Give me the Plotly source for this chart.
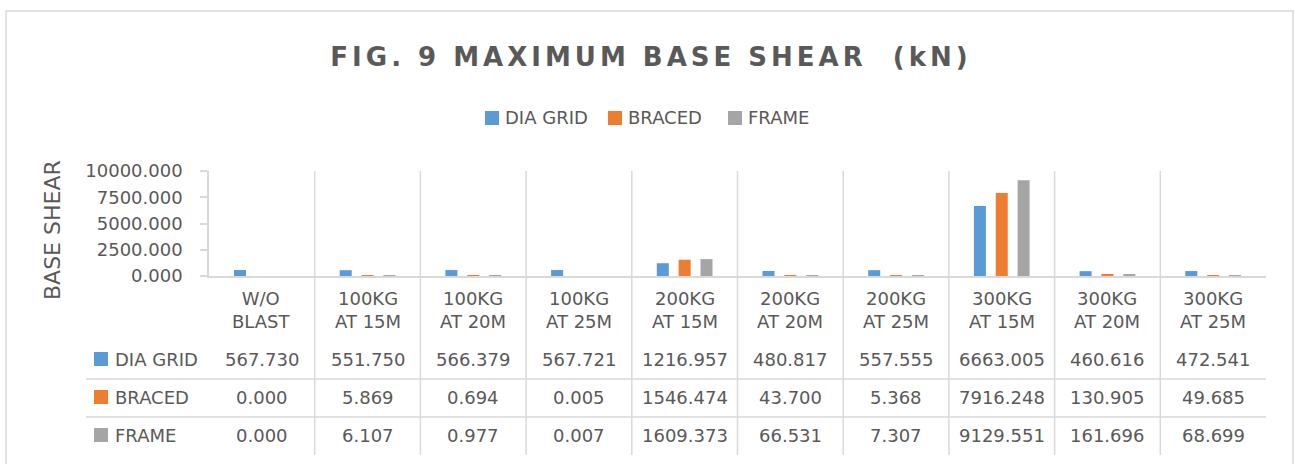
import plotly.graph_objects as go

categories = ["W/O<br>BLAST", "100KG<br>AT 15M", "100KG<br>AT 20M", "100KG<br>AT 25M",
              "200KG<br>AT 15M", "200KG<br>AT 20M", "200KG<br>AT 25M",
              "300KG<br>AT 15M", "300KG<br>AT 20M", "300KG<br>AT 25M"]
series_names = ["DIA GRID", "BRACED", "FRAME"]
dia_grid = [567.730, 551.750, 566.379, 567.721, 1216.957, 480.817, 557.555, 6663.005, 460.616, 472.541]
braced = [0.000, 5.869, 0.694, 0.005, 1546.474, 43.700, 5.368, 7916.248, 130.905, 49.685]
frame = [0.000, 6.107, 0.977, 0.007, 1609.373, 66.531, 7.307, 9129.551, 161.696, 68.699]
y_ticks = [0, 2500, 5000, 7500, 10000]
colors = ["#5B9BD5", "#ED7D31", "#A5A5A5"]

W, H = 1295, 464
TXT = "#595959"
GRID = "#D9D9D9"
FONT = "DejaVu Sans"

def px(x):
    return x / W

def py(y):
    return 1 - y / H

xs = list(range(len(categories)))
series = [dia_grid, braced, frame]

fig = go.Figure()
for name, vals, col in zip(series_names, series, colors):
    fig.add_trace(go.Bar(x=xs, y=vals, name=name, showlegend=False,
                         marker=dict(color=col, line=dict(width=0))))

shapes = []
annotations = []
# outer chart border (bottom edge lies below the visible area)
shapes.append(dict(type="rect", xref="paper", yref="paper", x0=px(6), x1=px(1293),
                   y0=py(480), y1=py(11), line=dict(color=GRID, width=1.5)))
# vertical category separators through plot and table
for i in range(1, len(categories)):
    shapes.append(dict(type="line", xref="x", yref="paper", x0=i - 0.5, x1=i - 0.5,
                       y0=py(171), y1=py(455), line=dict(color=GRID, width=1.5)))
# table horizontal separators
for yy in [379, 417]:
    shapes.append(dict(type="line", xref="paper", yref="paper", x0=px(86), x1=px(1266),
                       y0=py(yy), y1=py(yy), line=dict(color=GRID, width=1.5)))

# top legend (key squares + labels)
legend_left = [485, 608, 728]
for name, col, lx in zip(series_names, colors, legend_left):
    shapes.append(dict(type="rect", xref="paper", yref="paper", x0=px(lx), x1=px(lx + 14),
                       y0=py(125), y1=py(111), fillcolor=col, line=dict(width=0)))
    annotations.append(dict(x=px(lx + 18), y=py(118), xref="paper", yref="paper", text=name,
                            showarrow=False, xanchor="left", yanchor="middle",
                            font=dict(family=FONT, size=18, color=TXT)))

row_y = [359, 397, 435]
# category labels
for i, c in enumerate(categories):
    annotations.append(dict(x=i, y=py(310), xref="x", yref="paper", text=c, showarrow=False,
                            font=dict(family=FONT, size=18, color=TXT), align="center",
                            xanchor="center", yanchor="middle"))
# table rows
for r, (name, vals, col) in enumerate(zip(series_names, series, colors)):
    yy = row_y[r]
    shapes.append(dict(type="rect", xref="paper", yref="paper", x0=px(94), x1=px(108),
                       y0=py(yy + 7), y1=py(yy - 7), fillcolor=col, line=dict(width=0)))
    annotations.append(dict(x=px(113), y=py(yy), xref="paper", yref="paper", text=name,
                            showarrow=False, xanchor="left", yanchor="middle",
                            font=dict(family=FONT, size=18, color=TXT)))
    for i, v in enumerate(vals):
        annotations.append(dict(x=i, y=py(yy), xref="x", yref="paper", text=f"{v:.3f}",
                                showarrow=False, xanchor="center", yanchor="middle",
                                font=dict(family=FONT, size=18, color=TXT)))
# y-axis title
annotations.append(dict(x=px(52), y=py(230), xref="paper", yref="paper", text="BASE SHEAR",
                        textangle=-90, showarrow=False, xanchor="center", yanchor="middle",
                        font=dict(family=FONT, size=22, color=TXT)))

fig.update_layout(
    template="none",
    autosize=True,
    showlegend=False,
    margin=dict(l=0, r=0, t=0, b=0, pad=0, autoexpand=False),
    paper_bgcolor="white", plot_bgcolor="white",
    barmode="group", bargap=0.38, bargroupgap=0.45,
    title=dict(text="FIG. 9 MAXIMUM BASE SHEAR  (kN)", x=px(651), xanchor="center",
               y=py(57), yanchor="middle", pad=dict(t=0, b=0, l=0, r=0), automargin=False,
               font=dict(family=FONT, size=26, color=TXT, weight="bold")),
    xaxis=dict(domain=[px(209), px(1266)], range=[-0.5, len(categories) - 0.5],
               showticklabels=False, showgrid=False, zeroline=False, automargin=False,
               showline=True, linecolor=GRID, linewidth=1.5, ticks=""),
    yaxis=dict(domain=[py(276), py(171)], range=[0, 10000], tickvals=y_ticks,
               tickformat=".3f", showgrid=False, zeroline=False, automargin=False,
               showline=True, linecolor=GRID, linewidth=1.5,
               ticks="outside", ticklen=7, tickcolor=GRID, tickwidth=1.5,
               ticklabelstandoff=14,
               tickfont=dict(family=FONT, size=18, color=TXT)),
    shapes=shapes, annotations=annotations,
)

post = """
document.body.style.margin='0';
document.body.style.overflow='hidden';
document.querySelectorAll('.gtitle').forEach(function(e){e.style.letterSpacing='4px';});
"""
fig.write_html("out.html", post_script=post, default_width="100vw", default_height="100vh",
               config={"displayModeBar": False, "responsive": False})
